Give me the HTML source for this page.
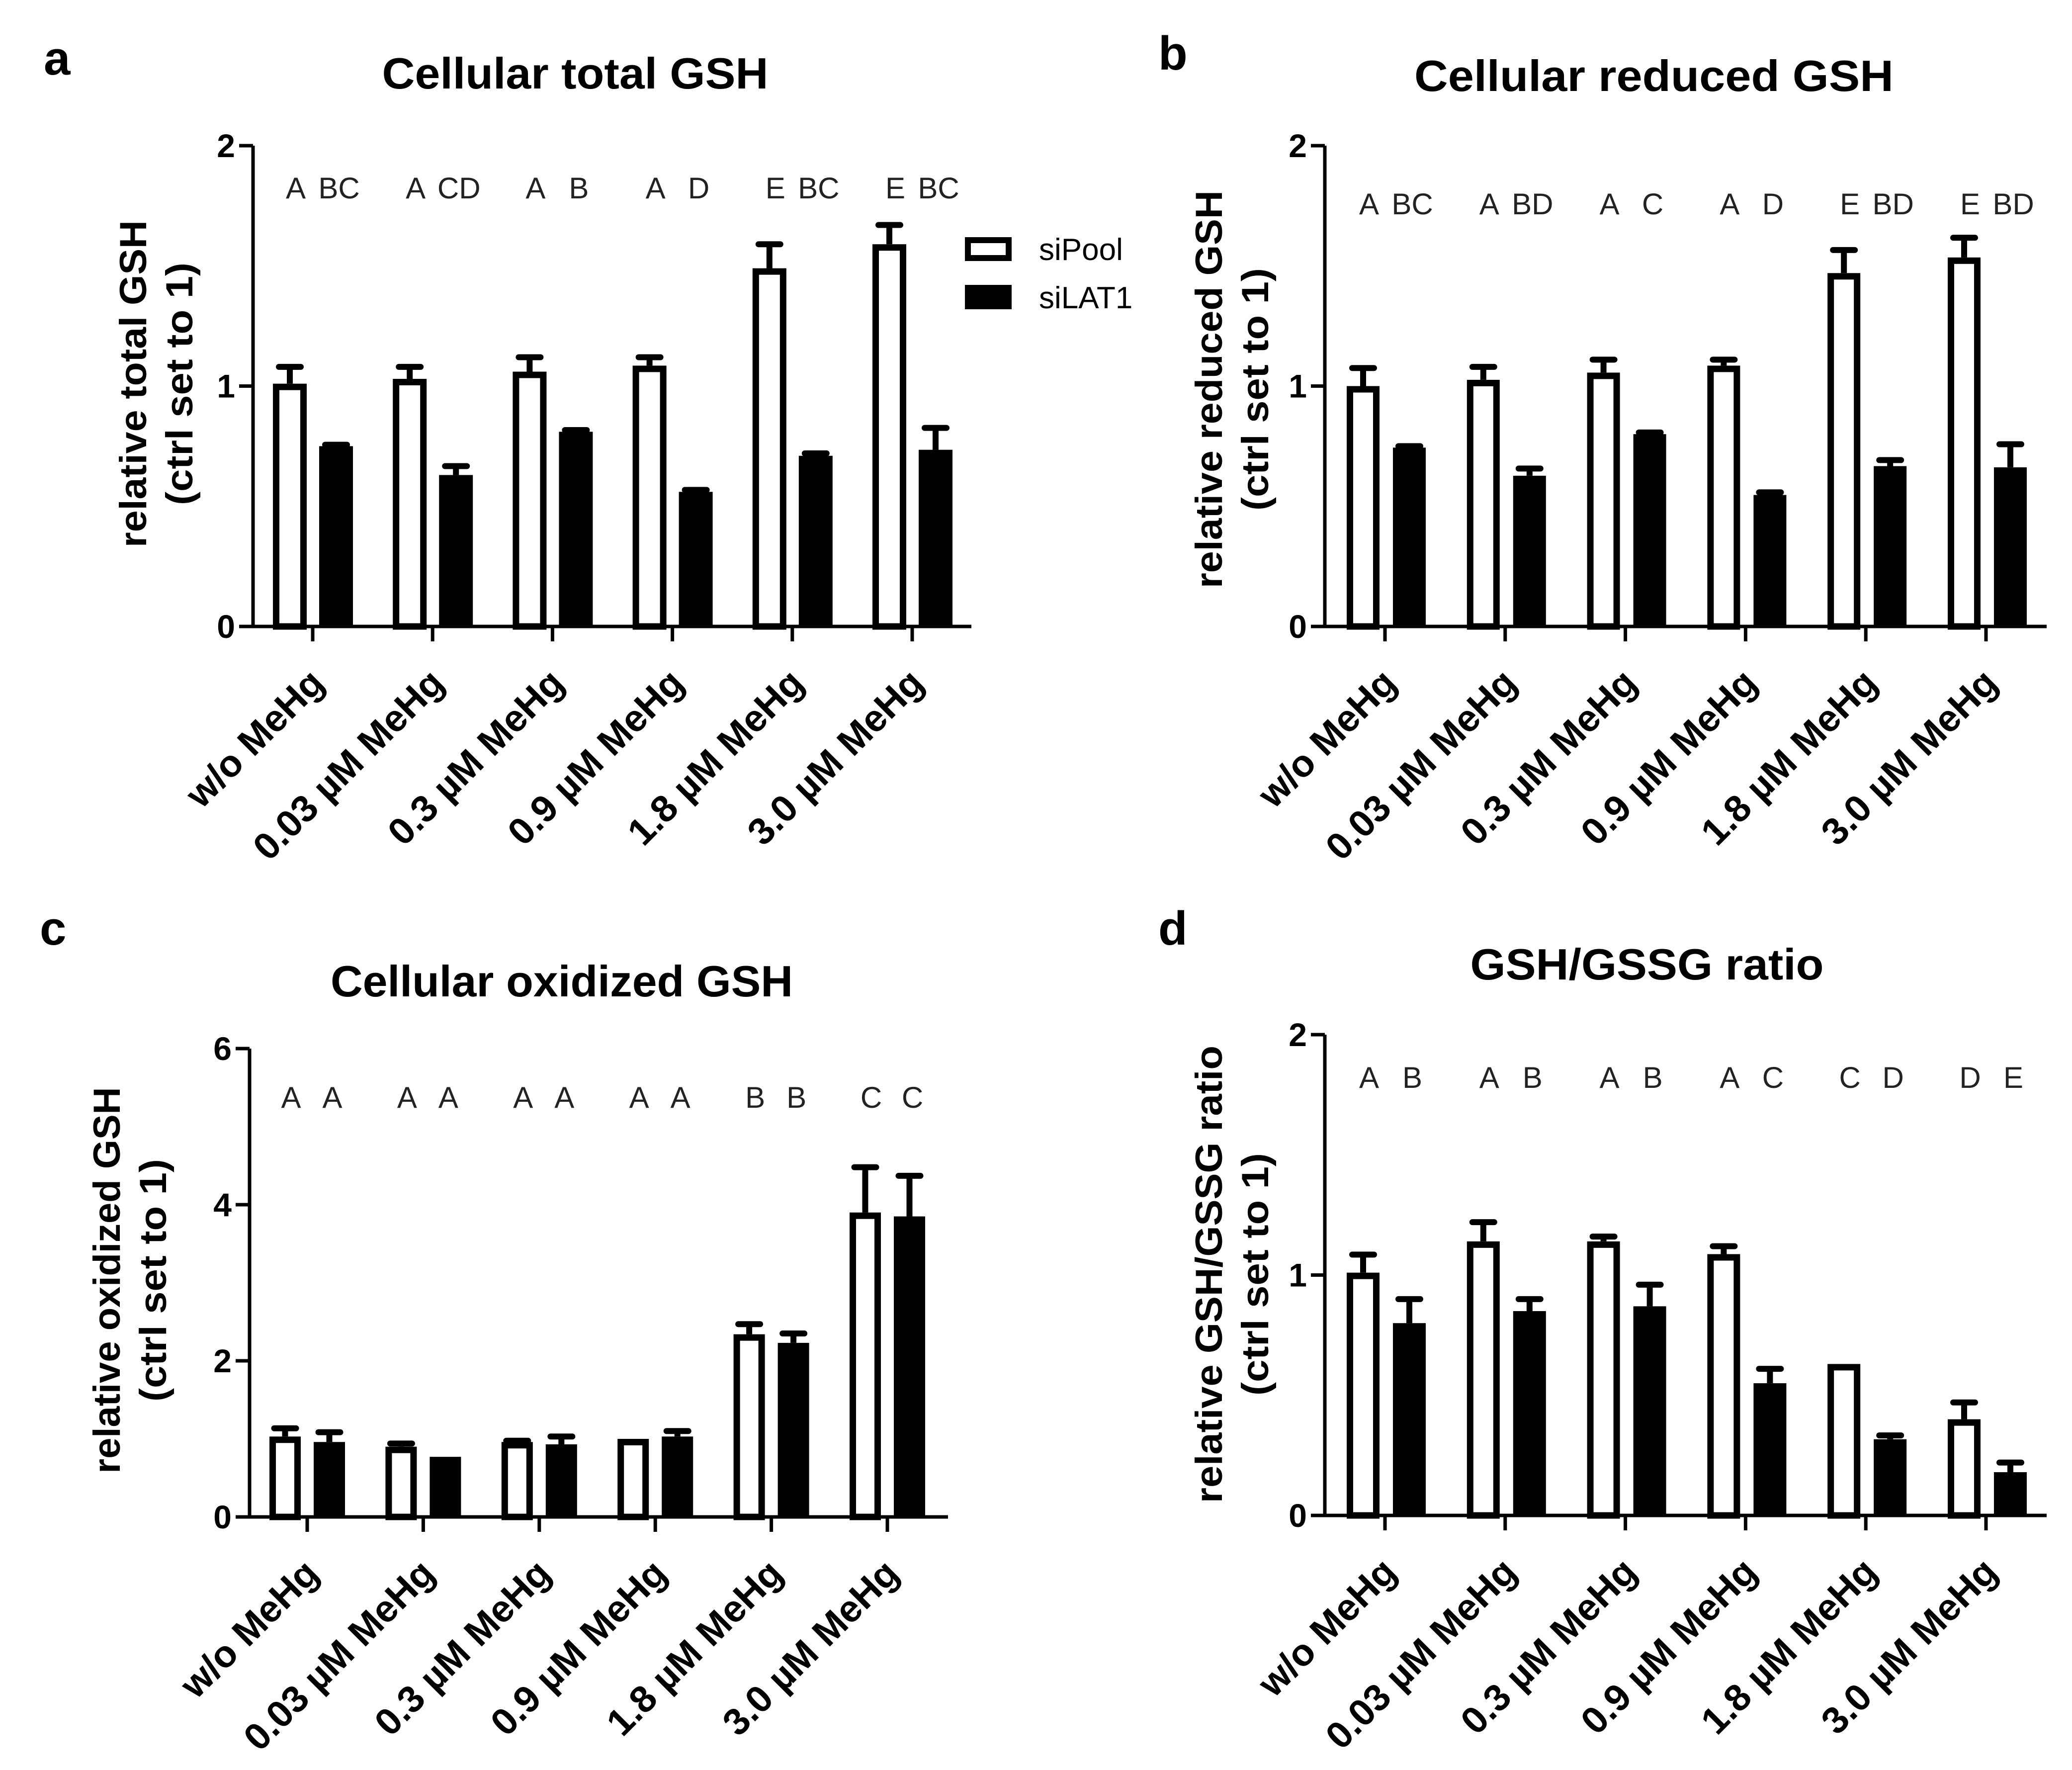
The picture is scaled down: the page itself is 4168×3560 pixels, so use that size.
<!DOCTYPE html>
<html><head><meta charset="utf-8"><style>
html,body{margin:0;padding:0;background:#fff;}
svg{display:block;font-family:"Liberation Sans",Arial,sans-serif;}
</style></head><body>
<svg id="fig" width="4168" height="3560" viewBox="0 0 4168 3560" xmlns="http://www.w3.org/2000/svg">
<rect width="4168" height="3560" fill="#fff"/>
</svg>
<script>
const categories = ["w/o MeHg","0.03 µM MeHg","0.3 µM MeHg","0.9 µM MeHg","1.8 µM MeHg","3.0 µM MeHg"];
const aPool = [1.01,1.03,1.06,1.085,1.49,1.59];
const aPoolErr = [1.08,1.08,1.12,1.12,1.59,1.67];
const aLat = [0.75,0.63,0.81,0.56,0.71,0.735];
const aLatErr = [0.756,0.667,0.817,0.568,0.72,0.826];
const aLetters = [["A","BC"],["A","CD"],["A","B"],["A","D"],["E","BC"],["E","BC"]];
const bPool = [1.0,1.026,1.056,1.085,1.47,1.535];
const bPoolErr = [1.075,1.08,1.11,1.11,1.566,1.617];
const bLat = [0.744,0.627,0.80,0.547,0.667,0.662];
const bLatErr = [0.75,0.657,0.807,0.558,0.692,0.758];
const bLetters = [["A","BC"],["A","BD"],["A","C"],["A","D"],["E","BD"],["E","BD"]];
const cPool = [1.03,0.90,0.96,1.0,2.34,3.90];
const cPoolErr = [1.135,0.94,0.976,1.0,2.47,4.48];
const cLat = [0.96,0.77,0.93,1.03,2.23,3.85];
const cLatErr = [1.085,0.77,1.03,1.10,2.35,4.37];
const cLetters = [["A","A"],["A","A"],["A","A"],["A","A"],["B","B"],["C","C"]];
const dPool = [1.01,1.14,1.14,1.087,0.63,0.40];
const dPoolErr = [1.085,1.22,1.16,1.12,0.63,0.47];
const dLat = [0.80,0.85,0.87,0.55,0.317,0.18];
const dLatErr = [0.90,0.90,0.96,0.61,0.333,0.22];
const dLetters = [["A","B"],["A","B"],["A","B"],["A","C"],["C","D"],["D","E"]];
const ticks2 = ["0","1","2"];
const ticks6 = ["0","2","4","6"];

const NS="http://www.w3.org/2000/svg";
const svg=document.getElementById('fig');
function mk(tag,attrs,parent){const e=document.createElementNS(NS,tag);for(const k in attrs)e.setAttribute(k,attrs[k]);(parent||svg).appendChild(e);return e;}

function panel(o){
  const g=mk('g',{});
  
  
  const y=v=>o.y0-(v/o.ymax)*(o.y0-o.ytop);
  const lab=mk('text',{x:o.lx,y:o.ly,'font-size':96,'font-weight':'bold'},g);lab.textContent=o.id;
  
  
  const t=mk('text',{x:o.tx,y:o.ty,'font-size':88,'font-weight':'bold','text-anchor':'middle',textLength:o.tlen,lengthAdjust:'spacingAndGlyphs'},g);t.textContent=o.title;
  
  
  const yl=mk('g',{transform:`translate(${o.ylx},${o.ylc}) rotate(-90)`},g);
  
  
  const l1=mk('text',{x:0,y:0,'font-size':76,'font-weight':'bold','text-anchor':'middle',textLength:o.yl1len,lengthAdjust:'spacingAndGlyphs'},yl);l1.textContent=o.yl1;
  const l2=mk('text',{x:0,y:o.ylgap,'font-size':76,'font-weight':'bold','text-anchor':'middle',textLength:488,lengthAdjust:'spacingAndGlyphs'},yl);l2.textContent="(ctrl set to 1)";
  const ya=mk('line',{x1:o.ax,y1:o.ytop,x2:o.ax,y2:o.y0+3,stroke:'#000','stroke-width':7},g);
  
  
  const xa=mk('line',{x1:o.ax-3,y1:o.y0,x2:o.xend,y2:o.y0,stroke:'#000','stroke-width':7},g);
  
  
  o.yt.forEach(s=>{
    const v=parseFloat(s);const yy=y(v);
    const tk=mk('line',{x1:o.ax-28,y1:yy,x2:o.ax,y2:yy,stroke:'#000','stroke-width':7},g);
    
    
    const tl=mk('text',{x:o.ax-36,y:yy+23,'font-size':66,'font-weight':'bold','text-anchor':'end'},g);tl.textContent=s;
    
    
  });
  categories.forEach((c,i)=>{
    const cx=o.t0+i*o.sp;
    const tk=mk('line',{x1:cx,y1:o.y0,x2:cx,y2:o.y0+30,stroke:'#000','stroke-width':7},g);
    
    
    const tl=mk('text',{x:0,y:0,'font-size':76,'font-weight':'bold','text-anchor':'end',transform:`translate(${cx+27},${o.y0+118}) rotate(-45)`},g);tl.textContent=c;
    
    
    const wl=cx+o.wOff, sw=13;
    const wt=y(o.pool[i]);
    const et=y(o.poolErr[i]);
    if(o.poolErr[i]>o.pool[i]){
      const e1=mk('line',{x1:wl+o.bw/2,y1:wt,x2:wl+o.bw/2,y2:et,stroke:'#000','stroke-width':12},g);
      
      
      const e2=mk('line',{x1:wl+o.bw/2-22,y1:et,x2:wl+o.bw/2+22,y2:et,stroke:'#000','stroke-width':12,'stroke-linecap':'round'},g);
      
      
    }
    const wb=mk('rect',{x:wl+sw/2,y:wt+sw/2,width:o.bw-sw,height:Math.max(0,o.y0-wt-sw/2),fill:'#fff',stroke:'#000','stroke-width':sw},g);
    
    
    const bl=cx+o.bOff;
    const bt=y(o.lat[i]);
    const be=y(o.latErr[i]);
    if(o.latErr[i]>o.lat[i]){
      const e1=mk('line',{x1:bl+o.bw/2,y1:bt,x2:bl+o.bw/2,y2:be,stroke:'#000','stroke-width':12},g);
      
      
      const e2=mk('line',{x1:bl+o.bw/2-22,y1:be,x2:bl+o.bw/2+22,y2:be,stroke:'#000','stroke-width':12,'stroke-linecap':'round'},g);
      
      
    }
    const bb=mk('rect',{x:bl,y:bt,width:o.bw,height:o.y0-bt,fill:'#000'},g);
    
    
    const L1=mk('text',{x:wl+o.bw/2+12,y:o.lety+22,'font-size':60,'text-anchor':'middle',fill:'#222'},g);L1.textContent=o.letters[i][0];
    
    
    const L2=mk('text',{x:bl+o.bw/2+6,y:o.lety+22,'font-size':60,'text-anchor':'middle',fill:'#222'},g);L2.textContent=o.letters[i][1];
    
    
  });
}
panel({id:'a',title:'Cellular total GSH',lx:88,ly:150,tx:1157,ty:178,tlen:777,ax:509,ytop:293,y0:1260,ymax:2,xend:1954,yt:ticks2,t0:629,sp:241.2,wOff:-80,bOff:13,bw:68,pool:aPool,poolErr:aPoolErr,lat:aLat,latErr:aLatErr,letters:aLetters,lety:377,ylx:294,ylc:772,ylgap:93,yl1:'relative total GSH',yl1len:658});
panel({id:'b',title:'Cellular reduced GSH',lx:2330,ly:140,tx:3327,ty:183,tlen:964,ax:2665,ytop:293,y0:1260,ymax:2,xend:4117,yt:ticks2,t0:2786,sp:241.8,wOff:-77,bOff:16,bw:66,pool:bPool,poolErr:bPoolErr,lat:bLat,latErr:bLatErr,letters:bLetters,lety:409,ylx:2458,ylc:783,ylgap:93,yl1:'relative reduced GSH',yl1len:800});
panel({id:'c',title:'Cellular oxidized GSH',lx:80,ly:1900,tx:1130,ty:2004,tlen:930,ax:502,ytop:2109,y0:3051,ymax:6,xend:1907,yt:ticks6,t0:618,sp:233.4,wOff:-76,bOff:13,bw:63,pool:cPool,poolErr:cPoolErr,lat:cLat,latErr:cLatErr,letters:cLetters,lety:2206,ylx:241,ylc:2575,ylgap:93,yl1:'relative oxidized GSH',yl1len:777});
panel({id:'d',title:'GSH/GSSG ratio',lx:2330,ly:1900,tx:3313,ty:1970,tlen:711,ax:2665,ytop:2081,y0:3048,ymax:2,xend:4117,yt:ticks2,t0:2786,sp:241.8,wOff:-77,bOff:16,bw:66,pool:dPool,poolErr:dPoolErr,lat:dLat,latErr:dLatErr,letters:dLetters,lety:2166,ylx:2458,ylc:2563,ylgap:93,yl1:'relative GSH/GSSG ratio',yl1len:920});

const lg=mk('g',{});


const s1=mk('rect',{x:1947,y:483,width:82,height:36,fill:'#fff',stroke:'#000','stroke-width':12},lg);


const t1=mk('text',{x:2090,y:523,'font-size':62},lg);t1.textContent='siPool';


const s2=mk('rect',{x:1941,y:573,width:94,height:49,fill:'#000'},lg);


const t2=mk('text',{x:2090,y:620,'font-size':62},lg);t2.textContent='siLAT1';


</script>
</body></html>
